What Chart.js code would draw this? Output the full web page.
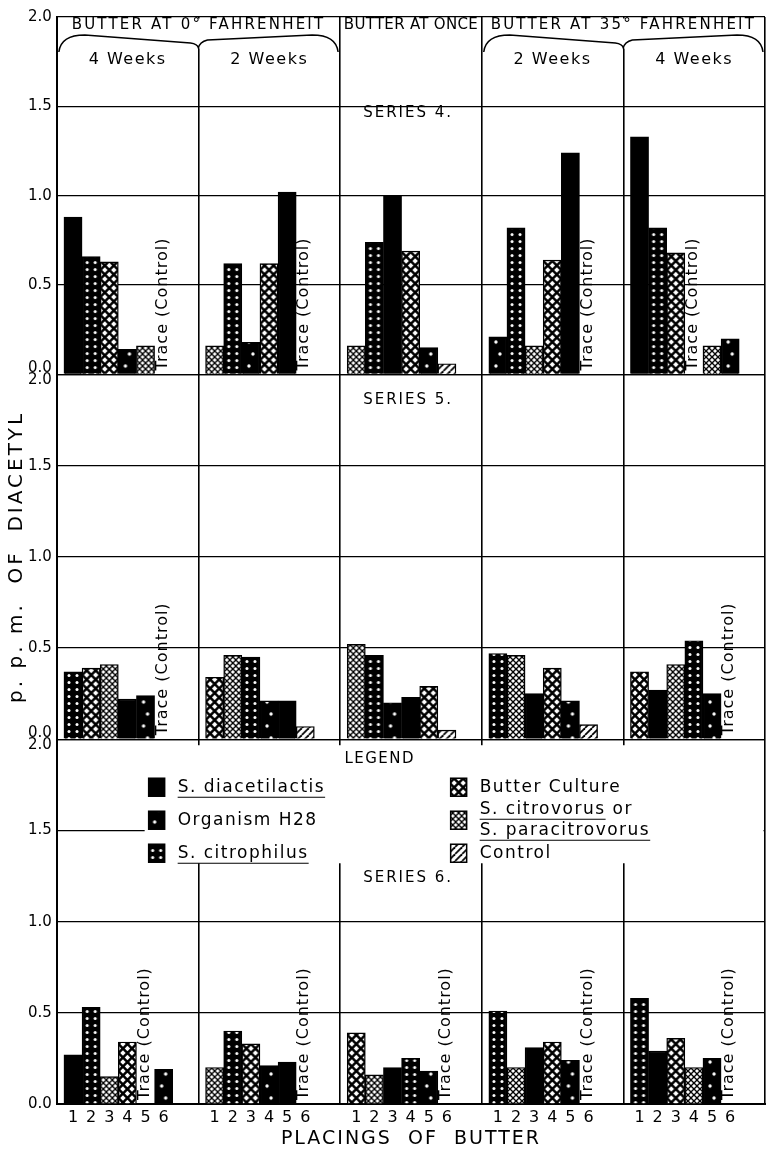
<!DOCTYPE html>
<html>
<head>
<meta charset="utf-8">
<script src="https://cdn.jsdelivr.net/npm/chart.js@4.4.1/dist/chart.umd.min.js"></script>
<style>
  html, body { margin: 0; padding: 0; background: #fff; }
  #wrap { position: relative; width: 767px; height: 1151px; }
</style>
</head>
<body>
<div id="wrap"><canvas id="chart"></canvas></div>
<script>
const FONT = "'DejaVu Sans', sans-serif";

// storage groups along the x axis (one column each)
const storageGroups = ['4 Weeks', '2 Weeks', '', '2 Weeks', '4 Weeks'];
const headerTitles = ['BUTTER AT 0\u00B0 FAHRENHEIT', 'BUTTER AT ONCE', 'BUTTER AT 35\u00B0 FAHRENHEIT'];
const placings = ['1', '2', '3', '4', '5', '6'];
const seriesNames = ['SERIES 4.', 'SERIES 5.', 'SERIES 6.'];
const yTicks = [0, 0.5, 1.0, 1.5, 2.0];
const yTitle = 'p. p. m.  OF  DIACETYL';
const xTitle = 'PLACINGS  OF  BUTTER';

// legend: organism codes and names
const organisms = ['dia', 'h28', 'cph', 'bc', 'cvo', 'ctl'];
const organismNames = ['S. diacetilactis', 'Organism H28', 'S. citrophilus', 'Butter Culture', 'S. citrovorus or', 'Control'];

// organism at each placing (1..6), one row per storage group
const series4Order = [
  ['dia', 'cph', 'bc', 'h28', 'cvo', 'ctl'],
  ['cvo', 'cph', 'h28', 'bc', 'dia', 'ctl'],
  ['cvo', 'cph', 'dia', 'bc', 'h28', 'ctl'],
  ['h28', 'cph', 'cvo', 'bc', 'dia', 'ctl'],
  ['dia', 'cph', 'bc', 'ctl', 'cvo', 'h28']
];
const series4Values = [
  [0.88, 0.66, 0.63, 0.14, 0.16, null],
  [0.16, 0.62, 0.18, 0.62, 1.02, null],
  [0.16, 0.74, 1.00, 0.69, 0.15, 0.06],
  [0.21, 0.82, 0.16, 0.64, 1.24, null],
  [1.33, 0.82, 0.68, null, 0.16, 0.20]
];
const series5Order = [
  ['cph', 'bc', 'cvo', 'dia', 'h28', 'ctl'],
  ['bc', 'cvo', 'cph', 'h28', 'dia', 'ctl'],
  ['cvo', 'cph', 'h28', 'dia', 'bc', 'ctl'],
  ['cph', 'cvo', 'dia', 'bc', 'h28', 'ctl'],
  ['bc', 'dia', 'cvo', 'cph', 'h28', 'ctl']
];
const series5Values = [
  [0.37, 0.39, 0.41, 0.22, 0.24, null],
  [0.34, 0.46, 0.45, 0.21, 0.21, 0.07],
  [0.52, 0.46, 0.20, 0.23, 0.29, 0.05],
  [0.47, 0.46, 0.25, 0.39, 0.21, 0.08],
  [0.37, 0.27, 0.41, 0.54, 0.25, null]
];
const series6Order = [
  ['dia', 'cph', 'cvo', 'bc', 'ctl', 'h28'],
  ['cvo', 'cph', 'bc', 'h28', 'dia', 'ctl'],
  ['bc', 'cvo', 'dia', 'cph', 'h28', 'ctl'],
  ['cph', 'cvo', 'dia', 'bc', 'h28', 'ctl'],
  ['cph', 'dia', 'bc', 'cvo', 'h28', 'ctl']
];
const series6Values = [
  [0.27, 0.53, 0.15, 0.34, null, 0.19],
  [0.20, 0.40, 0.33, 0.21, 0.23, null],
  [0.39, 0.16, 0.20, 0.25, 0.18, null],
  [0.51, 0.20, 0.31, 0.34, 0.24, null],
  [0.58, 0.29, 0.36, 0.20, 0.25, null]
];

const orders = [series4Order, series5Order, series6Order];
const values = [series4Values, series5Values, series6Values];
const axisIds = ['y4', 'y5', 'y6'];

// position of a placing inside its storage group (group = 1 unit on x)
const LEAD = 0.05, STEP = 0.128;
const xOf = (g, p) => g + LEAD + (p + 0.5) * STEP;

function buildData(rows) {
  const pts = [];
  rows.forEach((row, g) => row.forEach((v, p) => pts.push({x: xOf(g, p), y: v})));
  return pts;
}

//hatch tiles for each organism
function makeTile(w, h, draw) {
  const c = document.createElement('canvas');
  c.width = w; c.height = h;
  draw(c.getContext('2d'), w, h);
  return c;
}
function dot(g, x, y, r) { g.beginPath(); g.arc(x, y, r, 0, Math.PI * 2); g.fill(); }
const tiles = {
  h28: makeTile(18, 24, (g, w, h) => {
    g.fillStyle = '#000'; g.fillRect(0, 0, w, h);
    g.fillStyle = '#fff'; dot(g, 7, 6, 1.7); dot(g, 11, 18, 1.7);
  }),
  cph: makeTile(18, 7, (g, w, h) => {
    g.fillStyle = '#000'; g.fillRect(0, 0, w, h);
    g.fillStyle = '#fff'; dot(g, 5, 3.5, 1.5); dot(g, 13, 3.5, 1.5);
  }),
  bc: makeTile(9, 9, (g, w, h) => {
    g.fillStyle = '#000'; g.fillRect(0, 0, w, h);
    g.fillStyle = '#fff';
    [[4.5, 4.5], [0, 0], [9, 0], [0, 9], [9, 9]].forEach(([x, y]) => {
      g.beginPath(); g.moveTo(x, y - 2.7); g.lineTo(x + 2.7, y); g.lineTo(x, y + 2.7); g.lineTo(x - 2.7, y); g.fill();
    });
  }),
  cvo: makeTile(6, 6, (g, w, h) => {
    g.fillStyle = '#fff'; g.fillRect(0, 0, w, h);
    g.strokeStyle = '#000'; g.lineWidth = 1.3;
    for (let k = -1; k <= 1; k++) {
      g.beginPath(); g.moveTo(k * w, h); g.lineTo(k * w + w, 0); g.stroke();
      g.beginPath(); g.moveTo(k * w, 0); g.lineTo(k * w + w, h); g.stroke();
    }
  }),
  ctl: makeTile(7, 7, (g, w, h) => {
    g.fillStyle = '#fff'; g.fillRect(0, 0, w, h);
    g.strokeStyle = '#000'; g.lineWidth = 1.8;
    for (let k = -1; k <= 1; k++) {
      g.beginPath(); g.moveTo(k * w, h); g.lineTo(k * w + w, 0); g.stroke();
    }
  })
};
const patCtx = document.createElement('canvas').getContext('2d');
function fillFor(kind, cx) {
  const tile = tiles[kind];
  if (!tile) return '#000';
  const pat = patCtx.createPattern(tile, 'repeat');
  pat.setTransform(new DOMMatrix([1, 0, 0, 1, cx - tile.width / 2, 0]));
  return pat;
}

function brace(ctx, x0, x1, xm, y) {
  ctx.beginPath();
  ctx.moveTo(x0, y + 17);
  ctx.quadraticCurveTo(x0 + 2, y, x0 + 26, y);
  ctx.lineTo(xm - 8, y + 8);
  ctx.quadraticCurveTo(xm - 1, y + 9, xm, y + 13);
  ctx.quadraticCurveTo(xm + 1, y + 7, xm + 9, y + 5);
  ctx.lineTo(x1 - 26, y);
  ctx.quadraticCurveTo(x1 - 2, y, x1, y + 17);
  ctx.stroke();
}

function underlined(ctx, text, x, y) {
  ctx.fillText(text, x, y);
  const w = ctx.measureText(text).width;
  ctx.beginPath(); ctx.moveTo(x, y + 10); ctx.lineTo(x + w, y + 10); ctx.stroke();
}

function spacing(ctx, px) { if ('letterSpacing' in ctx) ctx.letterSpacing = px + 'px'; }

//headers, axis titles, trace labels, series names and legend
const decor = {
  id: 'decor',
  afterDraw(chart) {
    const ctx = chart.ctx;
    const xs = chart.scales.x;
    const area = chart.chartArea;
    const y4 = chart.scales.y4, y5 = chart.scales.y5, y6 = chart.scales.y6;
    ctx.save();
    ctx.fillStyle = '#000';
    ctx.strokeStyle = '#000';
    ctx.lineWidth = 1.5;
    ctx.textBaseline = 'middle';

    // header
    const top = y4.getPixelForValue(2);
    const b = [0, 1, 2, 3, 4, 5].map(v => xs.getPixelForValue(v));
    ctx.fillStyle = '#fff';
    ctx.fillRect(b[0] + 1.5, top + 1.5, b[2] - b[0] - 3, 30);
    ctx.fillRect(b[3] + 1.5, top + 1.5, b[5] - b[3] - 3, 30);
    ctx.fillStyle = '#000';
    ctx.textAlign = 'center';
    ctx.font = '15px ' + FONT;
    spacing(ctx, 2.2);
    ctx.fillText(headerTitles[0], b[1], top + 8);
    ctx.fillText(headerTitles[2], b[4], top + 8);
    spacing(ctx, 0.3);
    ctx.fillText(headerTitles[1], (b[2] + b[3]) / 2, top + 8);
    brace(ctx, b[0] + 2, b[2] - 2, b[1], top + 18);
    brace(ctx, b[3] + 2, b[5] - 2, b[4], top + 18);
    ctx.font = '16px ' + FONT;
    spacing(ctx, 1.5);
    storageGroups.forEach((s, g) => { if (s) ctx.fillText(s, xs.getPixelForValue(g + 0.5), top + 43); });

    // series names
    ctx.font = '15px ' + FONT;
    spacing(ctx, 2);
    const nameLevels = [1.46, 1.86, 1.24];
    axisIds.forEach((id, i) => {
      ctx.fillText(seriesNames[i], xs.getPixelForValue(2.48), chart.scales[id].getPixelForValue(nameLevels[i]));
    });

    // axis titles
    ctx.font = '19px ' + FONT;
    spacing(ctx, 2);
    ctx.fillText(xTitle, (area.left + area.right) / 2, chart.height - 12);
    ctx.font = '20px ' + FONT;
    spacing(ctx, 3);
    ctx.save();
    ctx.translate(17, (y5.top + y5.bottom) / 2);
    ctx.rotate(-Math.PI / 2);
    ctx.fillText(yTitle, 0, 0);
    ctx.restore();

    // legend panel over the top of series 6
    const lx = xs.getPixelForValue(0.62);
    const ly = y6.getPixelForValue(2) + 6;
    ctx.fillStyle = '#fff';
    ctx.fillRect(lx, ly, b[5] - lx - 1.5, y6.getPixelForValue(1.32) - ly);
    ctx.fillStyle = '#000';
    ctx.font = '15px ' + FONT;
    spacing(ctx, 1.5);
    ctx.fillText('LEGEND', xs.getPixelForValue(2.28), ly + 14);
    ctx.textAlign = 'left';
    ctx.font = '17px ' + FONT;
    const rows = [ly + 42, ly + 75, ly + 108];
    const cols = [lx + 4, lx + 306];
    organisms.forEach((k, i) => {
      const cx = cols[Math.floor(i / 3)], cy = rows[i % 3];
      ctx.fillStyle = fillFor(k, cx + 8);
      ctx.fillRect(cx, cy - 9, 16, 18);
      ctx.lineWidth = 1.5;
      ctx.strokeRect(cx, cy - 9, 16, 18);
      ctx.fillStyle = '#000';
      ctx.lineWidth = 1.2;
      const tx = cx + 29;
      if (k === 'cvo') {
        underlined(ctx, 'S. citrovorus', tx, cy - 11);
        ctx.fillText(' or', tx + ctx.measureText('S. citrovorus').width, cy - 11);
        underlined(ctx, 'S. paracitrovorus', tx, cy + 10);
      } else if (organismNames[i].startsWith('S.')) {
        underlined(ctx, organismNames[i], tx, cy);
      } else {
        ctx.fillText(organismNames[i], tx, cy);
      }
    });

    // "Trace (Control)" where the control gave no measurable diacetyl
    ctx.font = '16px ' + FONT;
    spacing(ctx, 1);
    axisIds.forEach((id, s) => {
      const ys = chart.scales[id];
      orders[s].forEach((row, g) => row.forEach((k, p) => {
        if (k !== 'ctl' || values[s][g][p] !== null) return;
        ctx.save();
        ctx.translate(xs.getPixelForValue(xOf(g, p)) - 1, ys.getPixelForValue(0) - 4);
        ctx.rotate(-Math.PI / 2);
        ctx.textAlign = 'left';
        ctx.fillText('Trace (Control)', 0, 0);
        ctx.restore();
      }));
    });
    ctx.restore();
  }
};

function yAxis(id, weight) {
  return {
    type: 'linear', position: 'left', stack: 'panels', stackWeight: weight, offset: false,
    min: 0, max: 2,
    afterBuildTicks: s => { s.ticks = yTicks.map(v => ({value: v})); },
    grid: {color: '#000', lineWidth: 1.3, drawTicks: false},
    border: {color: '#000', width: 2},
    ticks: {
      color: '#000', padding: 5, autoSkip: false,
      font: {family: FONT, size: 15, lineHeight: 0.8},
      callback: v => {
        const t = v.toFixed(1);
        if (v === 0 && id !== 'y6') return [t, ''];
        if (v === 2 && id !== 'y4') return ['', t];
        return t;
      }
    }
  };
}

new Chart(document.getElementById('chart'), {
  type: 'bar',
  data: {
    datasets: axisIds.map((id, s) => ({
      label: seriesNames[s],
      data: buildData(values[s]),
      xAxisID: 'x',
      yAxisID: id,
      grouped: false,
      barPercentage: 1,
      categoryPercentage: 1,
      borderColor: '#000',
      borderWidth: 1.4,
      backgroundColor: c => c.raw ? fillFor(orders[s].flat()[c.dataIndex], c.chart.scales.x.getPixelForValue(c.raw.x)) : '#000'
    }))
  },
  options: {
    responsive: true,
    maintainAspectRatio: false,
    animation: false,
    events: [],
    layout: {padding: {left: 23, right: 2, top: 15, bottom: 19}},
    plugins: {legend: {display: false}, tooltip: {enabled: false}, colors: {enabled: false}},
    scales: {
      x: {
        type: 'linear', position: 'bottom', min: 0, max: 5, offset: false,
        afterBuildTicks: s => { s.ticks = buildData(values[0]).map(d => ({value: d.x})); },
        grid: {display: false, drawTicks: false, offset: false},
        border: {color: '#000', width: 2},
        ticks: {color: '#000', autoSkip: false, maxRotation: 0, padding: 6, font: {family: FONT, size: 16, lineHeight: 1},
          callback: (v, i) => placings[i % placings.length]}
      },
      xg: {
        type: 'linear', position: 'top', min: 0, max: 5, offset: false,
        ticks: {display: false, stepSize: 1},
        grid: {color: '#000', lineWidth: 1.6, drawTicks: false, offset: false},
        border: {display: false}
      },
      y6: yAxis('y6', 1),
      y5: yAxis('y5', 1),
      y4: yAxis('y4', 0.98)
    }
  },
  plugins: [decor]
});
</script>
</body>
</html>
